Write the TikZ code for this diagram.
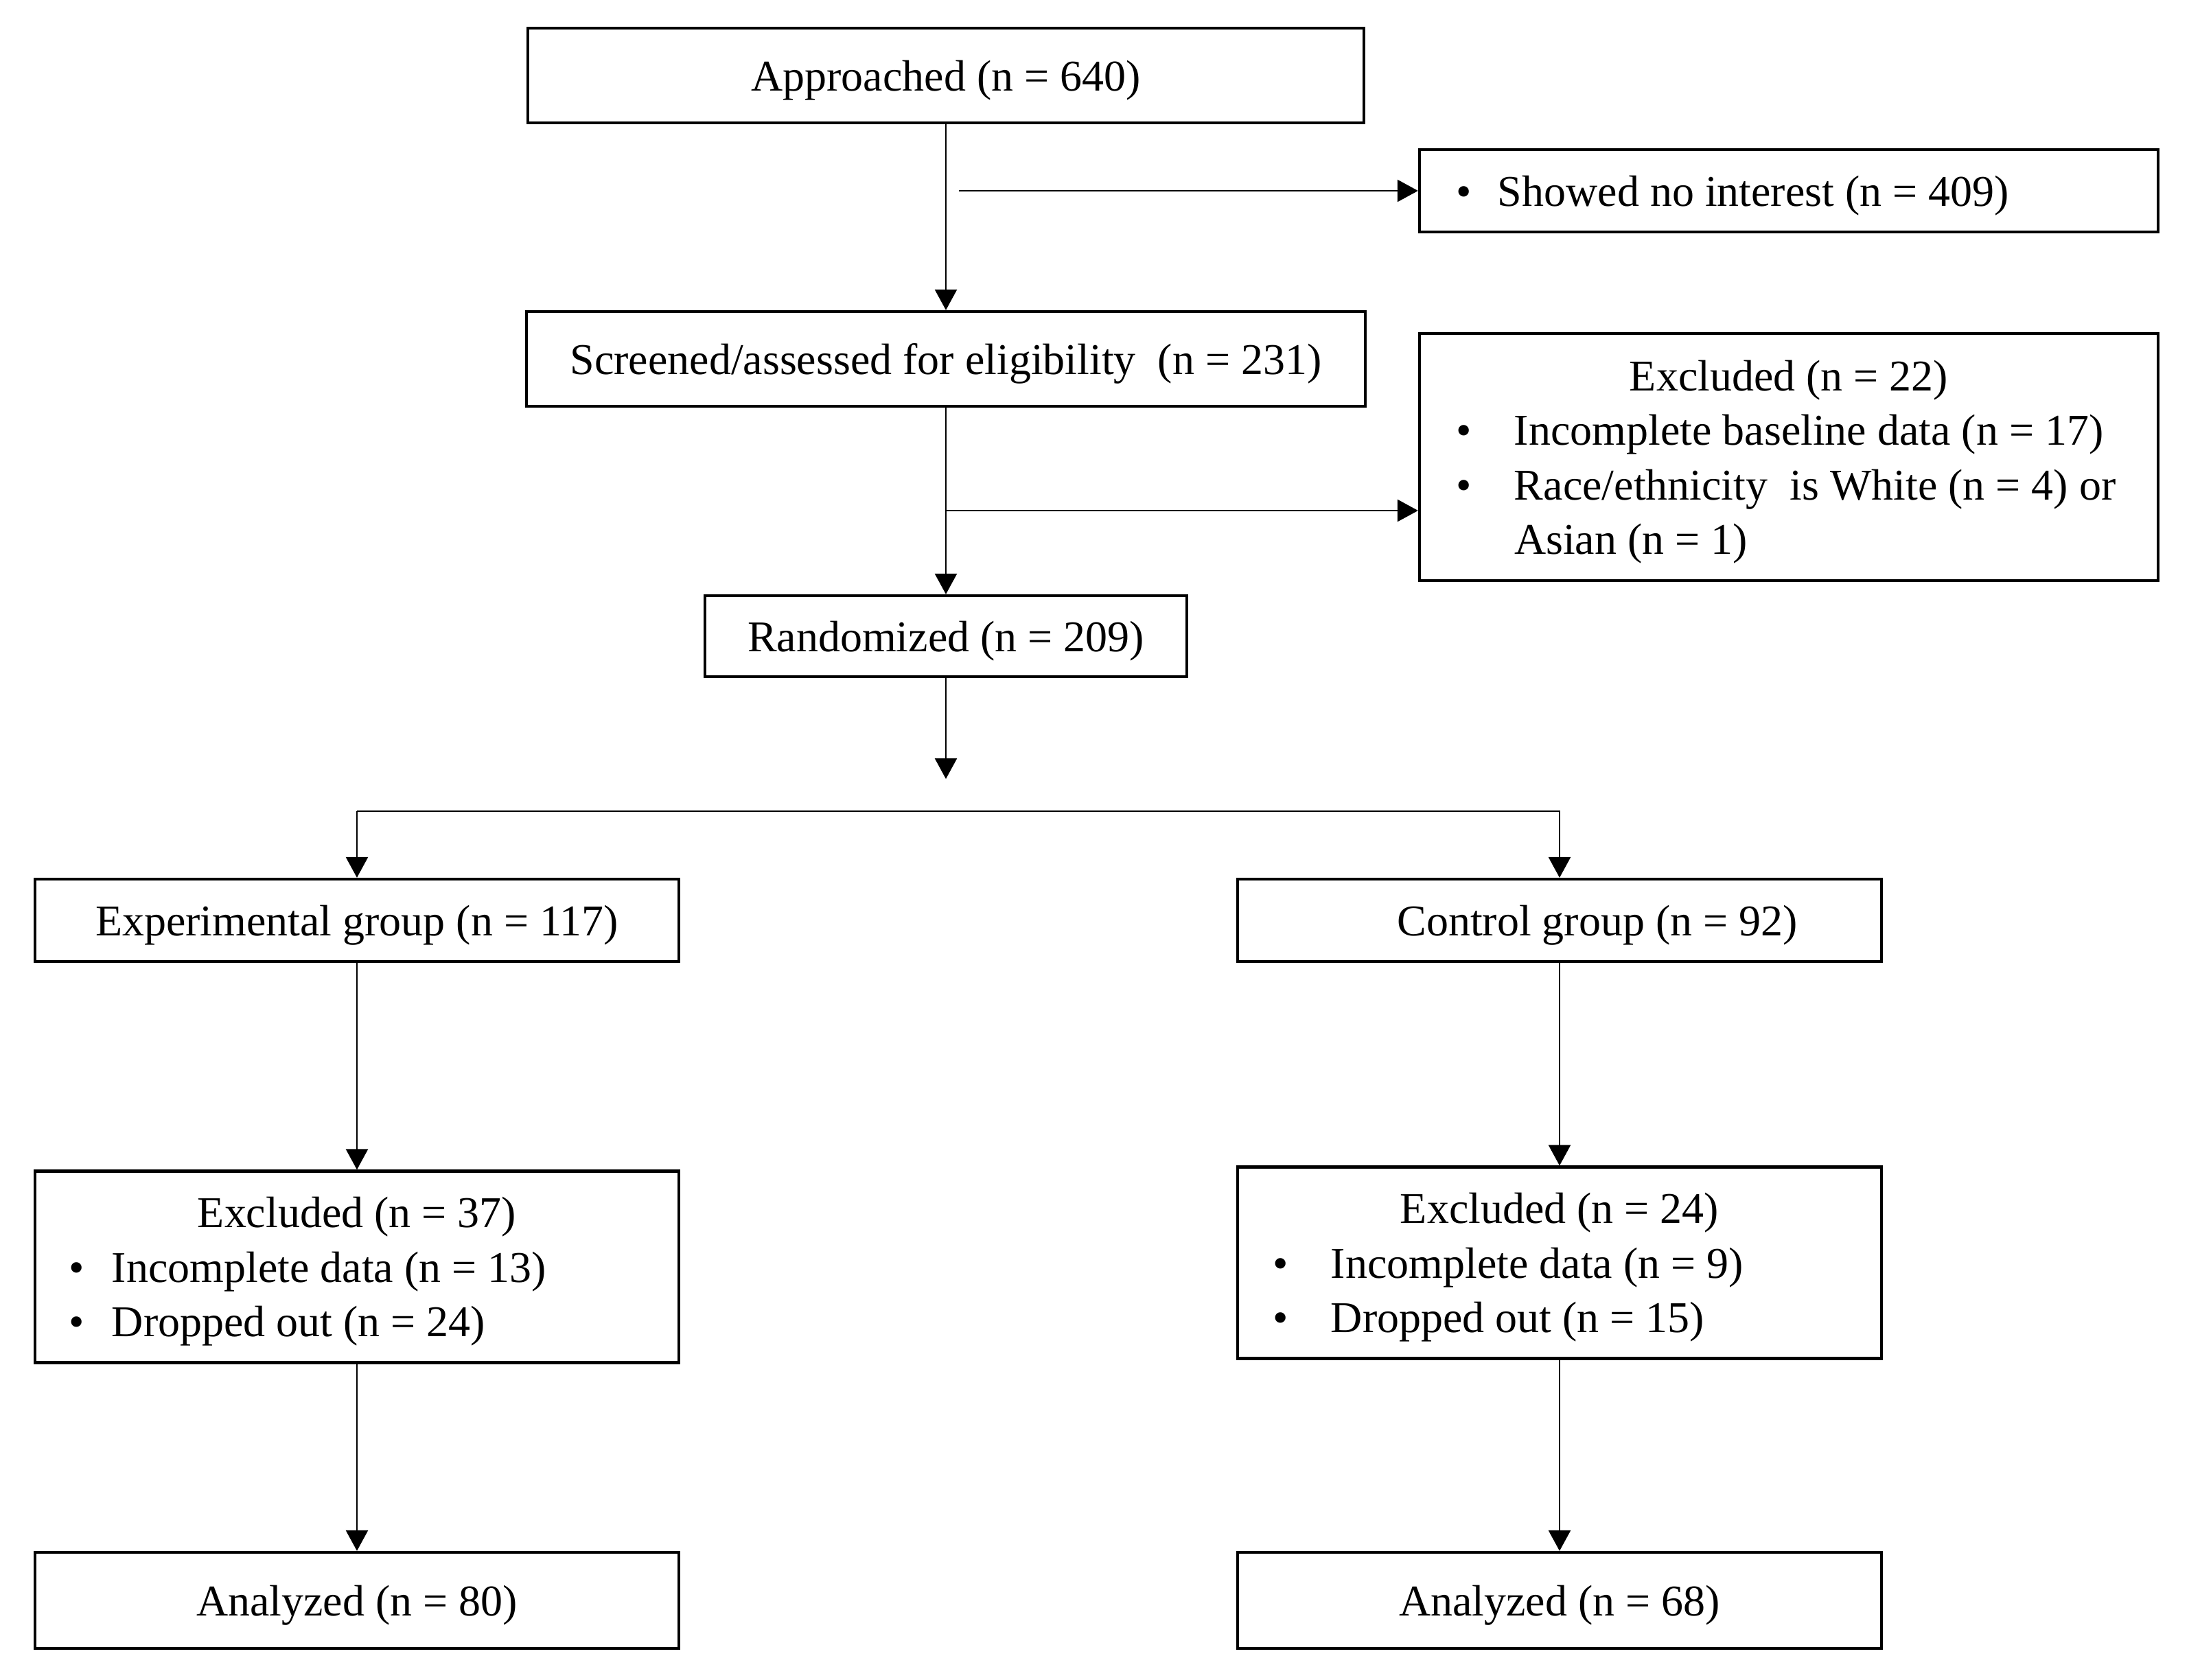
\documentclass[tikz,border=0pt]{standalone}
\usepackage{fontspec}
\setmainfont{Liberation Serif}
\usetikzlibrary{arrows.meta}
\usetikzlibrary{positioning}

\tikzset{
  box/.style={draw, line width=1.2pt, fill=white, inner sep=0pt, align=center,
    font=\fontsize{18.2pt}{22.6pt}\selectfont},
  arr/.style={-{Triangle[length=3mm,width=3.2mm]}, line width=0.7pt},
}
\newcommand{\bitem}[2]{\par\hspace*{#1}\makebox[#2][l]{\textbullet}}
\newcommand{\low}[1]{\raisebox{-0.07cm}[\height][\depth]{#1}}

\begin{document}
\begin{tikzpicture}
  % participant flow
  \useasboundingbox (0,0) rectangle (31.89,-24.47);

  \node[box, minimum width=12.18cm, minimum height=1.38cm] (approached) at (13.78,-1.10) {\low{Approached (n = 640)}};
  \node[box, minimum width=10.76cm, minimum height=1.20cm] (nointerest) at (26.06,-2.78)
    {\low{\parbox{10.76cm}{\bitem{0.53cm}{0.61cm}Showed no interest (n = 409)}}};
  \node[box, minimum width=12.22cm, minimum height=1.38cm] (screened) at (13.78,-5.23) {\low{Screened/assessed for eligibility\ \ (n = 231)}};
  \node[box, minimum width=10.76cm, minimum height=3.60cm] (excluded) at (26.06,-6.66)
    {\low{\parbox{10.76cm}{\centering Excluded (n = 22)\par\raggedright
      \bitem{0.53cm}{0.85cm}Incomplete baseline data (n = 17)
      \bitem{0.53cm}{0.85cm}Race/ethnicity\ \ is White (n = 4) or
      \par\hspace*{1.38cm}Asian (n = 1)}}};
  \node[box, minimum width=7.02cm, minimum height=1.18cm] (randomized) at (13.78,-9.27) {\low{Randomized (n = 209)}};

  \node[box, minimum width=9.38cm, minimum height=1.20cm] (expgroup) at (5.20,-13.41) {\low{Experimental group (n = 117)}};
  \node[box, minimum width=9.38cm, minimum height=1.20cm] (ctrlgroup) at (22.72,-13.41) {\low{\hspace*{1.1cm}Control group (n = 92)}};

  \node[box, minimum width=9.38cm, minimum height=2.79cm] (exclexp) at (5.20,-18.46)
    {\low{\parbox{9.38cm}{\centering Excluded (n = 37)\par\raggedright
      \bitem{0.49cm}{0.63cm}Incomplete data (n = 13)
      \bitem{0.49cm}{0.63cm}Dropped out (n = 24)}}};
  \node[box, minimum width=9.38cm, minimum height=2.79cm] (exclctrl) at (22.72,-18.40)
    {\low{\parbox{9.38cm}{\centering Excluded (n = 24)\par\raggedright
      \bitem{0.51cm}{0.85cm}Incomplete data (n = 9)
      \bitem{0.51cm}{0.85cm}Dropped out (n = 15)}}};

  \node[box, minimum width=9.38cm, minimum height=1.40cm] (anaexp) at (5.20,-23.32) {\low{Analyzed (n = 80)}};
  \node[box, minimum width=9.38cm, minimum height=1.40cm] (anactrl) at (22.72,-23.32) {\low{Analyzed (n = 68)}};

  \coordinate (side1) at (13.97,-2.78);
  \coordinate (side2) at (13.78,-7.44);
  \coordinate (randend) at (13.78,-11.35);
  \coordinate (split) at (13.78,-11.82);

  \draw[arr] (approached) -- (screened);
  \draw[arr] (side1) -- (nointerest);
  \draw[arr] (screened) -- (randomized);
  \draw[arr] (side2) -- (side2 -| excluded.west);
  \draw[arr] (randomized) -- (randend);

  \draw[arr] (expgroup.north |- split) -- (ctrlgroup.north |- split) -- (ctrlgroup);
  \draw[arr] (expgroup.north |- split) -- (expgroup);

  \draw[arr] (expgroup) -- (exclexp);
  \draw[arr] (ctrlgroup) -- (exclctrl);
  \draw[arr] (exclexp) -- (anaexp);
  \draw[arr] (exclctrl) -- (anactrl);
\end{tikzpicture}
\end{document}
